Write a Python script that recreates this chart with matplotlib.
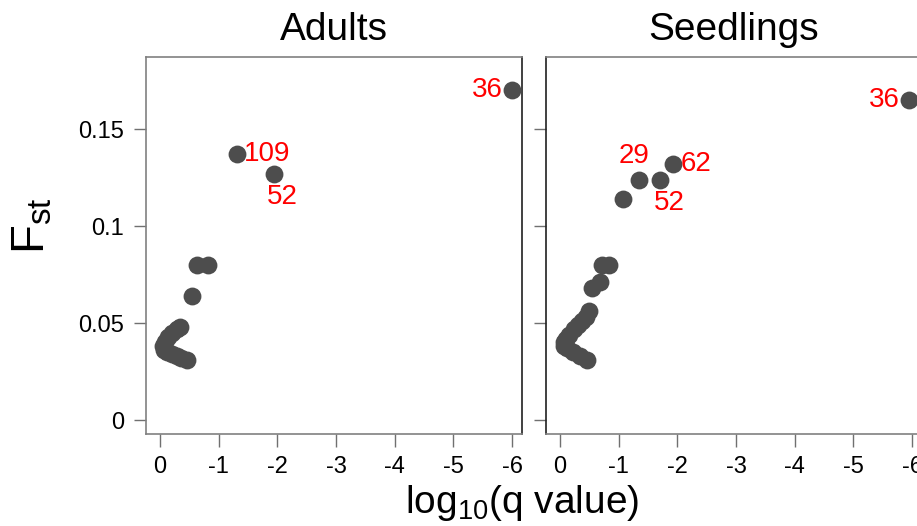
import matplotlib
matplotlib.use("Agg")
import matplotlib.pyplot as plt

plt.rcParams['font.family'] = ['Liberation Sans', 'DejaVu Sans']
plt.rcParams['mathtext.fontset'] = 'custom'
plt.rcParams['mathtext.rm'] = 'Liberation Sans'
plt.rcParams['mathtext.default'] = 'regular'

# log10(q value) and Fst per locus
adults_q = [-6.0, -1.31, -1.94, -0.63, -0.82, -0.55,
            -0.34, -0.28, -0.20, -0.13, -0.08, -0.05, -0.06,
            -0.12, -0.20, -0.28, -0.36, -0.46]
adults_fst = [0.170, 0.137, 0.127, 0.080, 0.080, 0.064,
              0.048, 0.047, 0.045, 0.043, 0.040, 0.038, 0.036,
              0.035, 0.034, 0.033, 0.032, 0.031]
adults_labels = {0: "36", 1: "109", 2: "52"}

seedl_q = [-5.95, -1.93, -1.35, -1.70, -1.07, -0.72, -0.83,
           -0.68, -0.55, -0.50, -0.44, -0.38, -0.30, -0.24,
           -0.16, -0.10, -0.07, -0.06, -0.12, -0.22, -0.34, -0.46]
seedl_fst = [0.165, 0.132, 0.124, 0.124, 0.114, 0.080, 0.080,
             0.071, 0.068, 0.056, 0.053, 0.051, 0.049, 0.047,
             0.044, 0.042, 0.040, 0.038, 0.037, 0.035, 0.033, 0.031]
seedl_labels = {0: "36", 1: "62", 2: "29", 3: "52"}

panel_titles = ["Adults", "Seedlings"]
x_ticks = [0, -1, -2, -3, -4, -5, -6]
y_ticks = [0, 0.05, 0.1, 0.15]
y_ticklabels = ["0", "0.05", "0.1", "0.15"]

# label offsets in points (dx, dy, ha)
adults_offs = {0: (-7, 0, 'right'), 1: (5, 0, 'left'), 2: (6, -17, 'center')}
seedl_offs = {0: (-7, 0, 'right'), 1: (5, 0, 'left'), 2: (-4, 17, 'center'),
              3: (7, -17, 'center')}

W, H = 917, 526
fig = plt.figure(figsize=(W / 100, H / 100), dpi=100)
ax1 = fig.add_axes([146 / W, (H - 434) / H, 376 / W, 377 / H])
ax2 = fig.add_axes([546 / W, (H - 434) / H, 376 / W, 377 / H])

data = [(ax1, adults_q, adults_fst, adults_labels, adults_offs),
        (ax2, seedl_q, seedl_fst, seedl_labels, seedl_offs)]

for i, (ax, q, f, labs, offs) in enumerate(data):
    ax.scatter(q, f, s=165, color='#4d4d4d', linewidths=0, zorder=3)
    for k, txt in labs.items():
        dx, dy, ha = offs[k]
        ax.annotate(txt, (q[k], f[k]), xytext=(dx, dy), textcoords='offset points',
                    ha=ha, va='center', color='red', fontsize=20)
    ax.set_xlim(0.24, -6.17)
    ax.set_ylim(-0.0072, 0.1872)
    ax.set_xticks(x_ticks)
    ax.set_xticklabels([str(t) for t in x_ticks])
    ax.set_yticks(y_ticks)
    ax.set_title(panel_titles[i], fontsize=28, pad=12)
    ax.tick_params(length=9, width=1, color='#707070', labelsize=17, pad=7)
    for side in ['top', 'bottom', 'left', 'right']:
        ax.spines[side].set_color('#808080')
        ax.spines[side].set_linewidth(1.2)

ax1.set_yticklabels(y_ticklabels)
ax2.set_yticklabels([])
ax1.spines['right'].set_color('#202020')
ax2.spines['left'].set_color('#202020')

fig.text(32 / W, 1 - 226 / H, 'F$_{st}$', rotation=90, ha='center', va='center',
         fontsize=34)
fig.text(522 / W, 1 - 513 / H, 'log$_{10}$(q value)', ha='center', va='baseline',
         fontsize=28)

fig.savefig('out.png', dpi=100)
